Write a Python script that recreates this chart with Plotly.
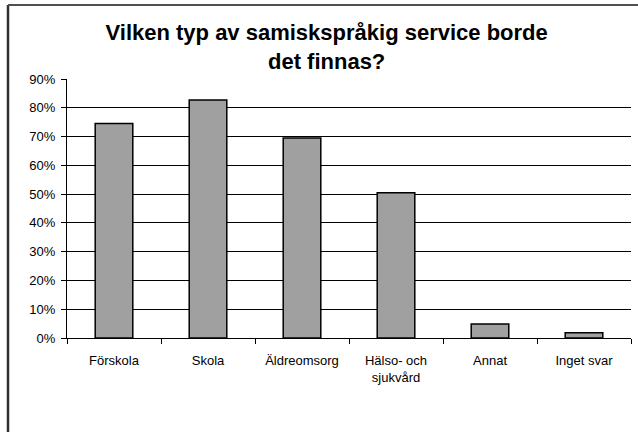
import plotly.graph_objects as go

categories = ["Förskola", "Skola", "Äldreomsorg", "Hälso- och<br>sjukvård", "Annat", "Inget svar"]
values = [0.745, 0.827, 0.695, 0.505, 0.049, 0.018]
y_ticks = [0, 0.1, 0.2, 0.3, 0.4, 0.5, 0.6, 0.7, 0.8, 0.9]
y_tick_labels = ["0%", "10%", "20%", "30%", "40%", "50%", "60%", "70%", "80%", "90%"]
title_text = "Vilken typ av samiskspråkig service borde<br>det finnas?"

W, H = 638, 432
ML, MR, MT, MB = 67, 7, 79, 94
PW, PH = W - ML - MR, H - MT - MB

fig = go.Figure()
fig.add_trace(go.Bar(
    x=categories, y=values, width=0.4,
    marker=dict(color="#A0A0A0", line=dict(color="black", width=1.5)),
    hoverinfo="x+y",
))

fig.update_layout(
    width=W, height=H,
    margin=dict(l=ML, r=MR, t=MT, b=MB, autoexpand=False),
    paper_bgcolor="white", plot_bgcolor="white",
    font=dict(family="Liberation Sans, Arial, sans-serif", size=13, color="black"),
    title=dict(text="<b>" + title_text + "</b>", x=0.512, xanchor="center",
               y=1 - 40 / H, yanchor="top",
               font=dict(family="Liberation Sans, Arial, sans-serif", size=22, color="black")),
    showlegend=False,
)
fig.update_xaxes(
    type="category", showline=True, linecolor="black", linewidth=1,
    ticks="outside", tickson="boundaries", ticklen=5, tickcolor="black",
    showgrid=False, tickfont=dict(size=13), ticklabelstandoff=10, automargin=False,
)
fig.update_yaxes(
    range=[0, 0.9], tickvals=y_ticks, ticktext=y_tick_labels,
    showline=True, linecolor="black", linewidth=1,
    ticks="outside", ticklen=5, tickcolor="black",
    showgrid=True, gridcolor="black", gridwidth=1,
    tickfont=dict(size=13), zeroline=False, ticklabelstandoff=3, automargin=False,
)
# outer chart border (left and top edges visible)
bx = (8 - ML) / PW
by = (H - 5 - MB) / PH
fig.add_shape(type="line", xref="paper", yref="paper",
              x0=bx, x1=bx, y0=-MB / PH - 0.05, y1=by,
              line=dict(color="#303030", width=2.5))
fig.add_shape(type="line", xref="paper", yref="paper",
              x0=bx, x1=1.05, y0=by, y1=by,
              line=dict(color="#505050", width=2))

fig.write_html("out.html", config={"displayModeBar": False},
               post_script="document.body.style.margin='0px';")
